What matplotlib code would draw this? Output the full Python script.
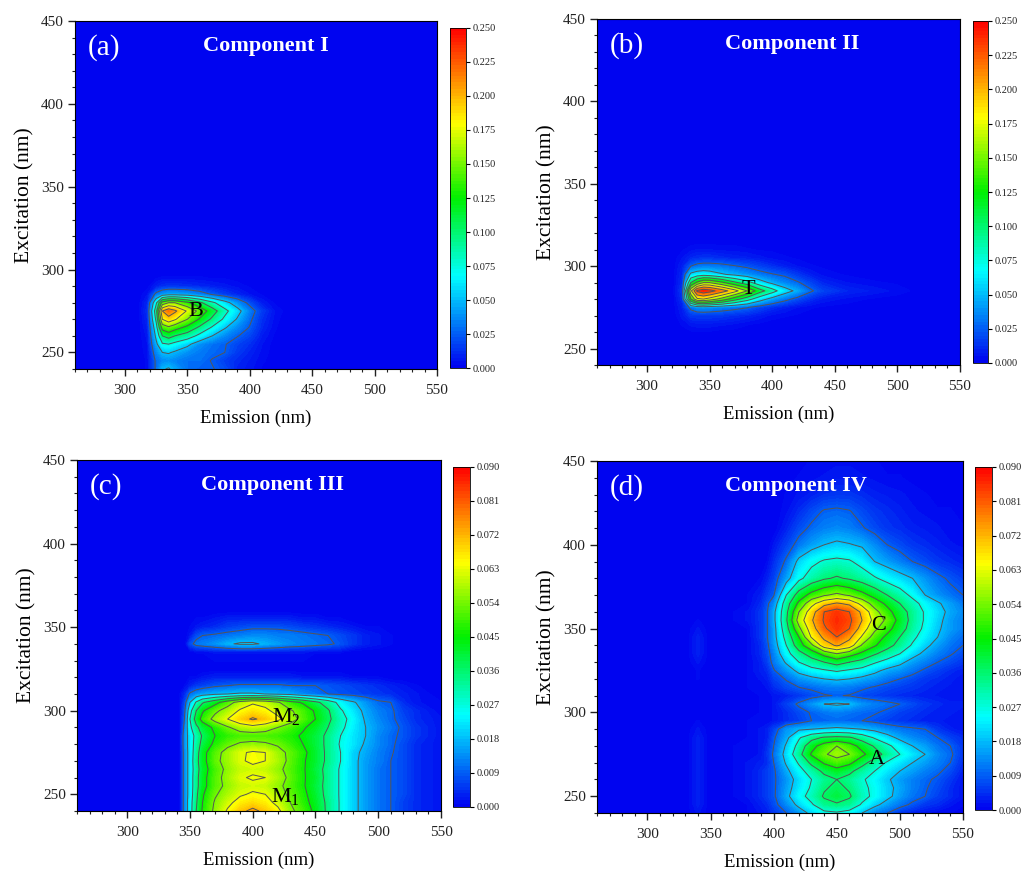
import numpy as np
import matplotlib
matplotlib.use("Agg")
import matplotlib.pyplot as plt
from matplotlib.colors import LinearSegmentedColormap
from matplotlib.ticker import MultipleLocator

plt.rcParams['font.family'] = ['Liberation Serif', 'DejaVu Serif']

# all intensities below are in units of 0.001
em_a = [260, 310, 318, 325, 330, 335, 340, 350, 360, 370, 380, 390, 400, 410, 420, 430, 550]
ex_a = [240, 245, 250, 255, 260, 265, 270, 275, 280, 285, 290, 295, 300, 450]
z_a = [
    [0, 0, 3, 28, 48, 52, 44, 30, 26, 26, 20, 9, 6, 2, 0, 0, 0],
    [0, 0, 3, 28, 36, 38, 35, 30, 30, 24, 16, 11, 7, 3, 1, 0, 0],
    [0, 0, 4, 35, 50, 52, 47, 38, 32, 28, 25, 15, 9, 4, 1, 0, 0],
    [0, 0, 5, 45, 72, 75, 68, 55, 38, 30, 26, 18, 12, 5, 1, 0, 0],
    [0, 0, 6, 55, 100, 110, 100, 88, 68, 50, 36, 26, 18, 7, 2, 0, 0],
    [0, 0, 8, 65, 135, 145, 135, 118, 95, 72, 52, 36, 24, 10, 3, 0, 0],
    [0, 0, 10, 80, 175, 190, 178, 150, 122, 95, 70, 48, 28, 12, 4, 0, 0],
    [0, 0, 12, 90, 200, 218, 205, 172, 142, 112, 82, 58, 33, 15, 5, 1, 0],
    [0, 0, 10, 70, 135, 150, 150, 130, 105, 80, 58, 38, 20, 7, 2, 0, 0],
    [0, 0, 5, 30, 40, 45, 45, 42, 34, 24, 16, 10, 5, 2, 1, 0, 0],
    [0, 0, 1, 8, 12, 13, 13, 12, 10, 8, 6, 4, 2, 1, 0, 0, 0],
    [0, 0, 0, 2, 3, 3, 3, 3, 3, 2, 2, 1, 1, 0, 0, 0, 0],
    [0, 0, 0, 0, 0, 0, 0, 0, 0, 0, 0, 0, 0, 0, 0, 0, 0],
    [0, 0, 0, 0, 0, 0, 0, 0, 0, 0, 0, 0, 0, 0, 0, 0, 0],
]

em_b = [260, 320, 328, 335, 340, 345, 350, 360, 370, 380, 390, 400, 410, 420, 430, 440, 460, 480, 500, 520, 550]
ex_b = [240, 260, 265, 270, 275, 280, 285, 290, 295, 300, 305, 310, 315, 320, 450]
z_b = [
    [0, 0, 0, 0, 0, 0, 0, 0, 0, 0, 0, 0, 0, 0, 0, 0, 0, 0, 0, 0, 0],
    [0, 0, 1, 2, 2, 2, 2, 1, 1, 0, 0, 0, 0, 0, 0, 0, 0, 0, 0, 0, 0],
    [0, 0, 3, 6, 7, 7, 7, 6, 5, 3, 2, 1, 0, 0, 0, 0, 0, 0, 0, 0, 0],
    [0, 0, 6, 14, 15, 15, 15, 14, 12, 10, 7, 4, 3, 2, 1, 0, 0, 0, 0, 0, 0],
    [0, 0, 8, 30, 38, 40, 38, 34, 30, 26, 18, 12, 8, 5, 3, 2, 1, 0, 0, 0, 0],
    [0, 0, 12, 125, 170, 175, 165, 140, 110, 85, 60, 42, 30, 20, 12, 7, 4, 2, 1, 0, 0],
    [0, 0, 15, 170, 230, 242, 235, 212, 185, 150, 110, 85, 60, 45, 28, 18, 10, 7, 4, 1, 0],
    [0, 0, 12, 100, 130, 150, 150, 130, 105, 85, 60, 45, 35, 27, 18, 10, 5, 3, 2, 0, 0],
    [0, 0, 10, 55, 62, 65, 62, 52, 45, 38, 31, 26, 22, 14, 8, 4, 2, 1, 0, 0, 0],
    [0, 0, 8, 25, 30, 32, 32, 30, 26, 22, 17, 12, 8, 5, 3, 2, 1, 0, 0, 0, 0],
    [0, 0, 5, 10, 12, 13, 13, 11, 9, 8, 6, 4, 3, 2, 1, 1, 0, 0, 0, 0, 0],
    [0, 0, 2, 4, 5, 5, 5, 4, 4, 3, 2, 2, 1, 1, 0, 0, 0, 0, 0, 0, 0],
    [0, 0, 1, 1, 1, 1, 1, 1, 1, 0, 0, 0, 0, 0, 0, 0, 0, 0, 0, 0, 0],
    [0, 0, 0, 0, 0, 0, 0, 0, 0, 0, 0, 0, 0, 0, 0, 0, 0, 0, 0, 0, 0],
    [0, 0, 0, 0, 0, 0, 0, 0, 0, 0, 0, 0, 0, 0, 0, 0, 0, 0, 0, 0, 0],
]

em_c = [260, 335, 342, 346, 350, 355, 360, 370, 380, 390, 400, 410, 420, 430, 440, 450, 460, 470, 480, 490, 500, 510, 520, 530, 550]
ex_c = [240, 245, 250, 255, 260, 265, 270, 275, 280, 285, 290, 295, 300, 305, 310, 315, 320, 325, 330, 335, 340, 345, 350, 355, 360, 450]
z_c = [
    [0, 0, 1, 13, 23, 36, 46, 56, 64, 70, 74, 70, 65, 56, 50, 43, 34, 26, 20, 15, 11, 9, 6, 4, 2],
    [0, 0, 1, 13, 23, 35, 45, 55, 61, 66, 68, 66, 61, 54, 48, 42, 34, 26, 20, 15, 11, 9, 6, 4, 2],
    [0, 0, 1, 13, 22, 34, 44, 53, 58, 62, 64, 63, 58, 52, 47, 41, 33, 26, 20, 15, 11, 9, 7, 4, 2],
    [0, 0, 1, 13, 22, 33, 42, 51, 56, 60, 61, 60, 56, 51, 46, 40, 33, 26, 20, 15, 11, 9, 7, 4, 2],
    [0, 0, 1, 13, 22, 33, 42, 51, 57, 62, 64, 63, 58, 52, 46, 41, 33, 26, 20, 15, 11, 9, 7, 4, 2],
    [0, 0, 1, 13, 22, 32, 41, 50, 56, 60, 61, 60, 56, 51, 46, 40, 33, 26, 20, 15, 11, 9, 7, 4, 2],
    [0, 0, 1, 13, 22, 33, 42, 52, 57, 62, 64.5, 63, 58, 52, 46, 41, 34, 27, 20, 15, 12, 9, 7, 4, 2],
    [0, 0, 1, 13, 22, 32, 42, 51, 57, 62, 64, 63, 57, 52, 47, 41, 34, 27, 20, 16, 12, 9.5, 7, 4, 2],
    [0, 0, 1, 14, 22, 31, 39, 47, 52, 55, 56, 55, 53, 49, 45, 40, 34, 26, 22, 17, 13, 10, 7, 4, 2],
    [0, 0, 1, 14, 22, 30, 37, 45, 48, 50, 50, 50, 49, 47, 44, 40, 34, 27, 22, 18, 13, 10, 8, 5, 2],
    [0, 0, 1, 12, 25, 34, 40, 47, 53, 58, 60, 58, 54, 50, 46, 42, 36, 29, 23, 18, 14, 11, 8, 5, 2],
    [0, 0, 1, 10, 27, 40, 48, 57, 63, 69, 73, 70, 65, 58, 51, 45, 38, 30, 24, 17, 13, 10, 7, 4, 2],
    [0, 0, 1, 9, 24, 36, 44, 52, 58, 64, 67, 65, 60, 55, 50, 44, 37, 28, 22, 16, 12, 10, 6, 4, 1],
    [0, 0, 1, 7, 18, 28, 35, 42, 50, 58, 62, 60, 55, 48, 44, 38, 32, 24, 19, 14, 10, 9, 4, 2, 1],
    [0, 0, 1, 4, 10, 13, 15, 17, 18, 19, 19, 18, 17, 16, 13, 11, 9, 8, 7, 6, 5, 4, 3, 2, 0],
    [0, 0, 0, 1, 3, 5, 6, 8, 9, 10, 10, 10, 10, 9, 9, 9, 8, 7, 6, 5, 4, 3, 2, 1, 0],
    [0, 0, 0, 0, 1, 1, 2, 3, 3, 3, 3, 3, 3, 3, 2, 2, 2, 2, 1, 1, 1, 0, 0, 0, 0],
    [0, 0, 0, 0, 0, 0, 0, 0, 0, 0, 0, 0, 0, 0, 0, 0, 0, 0, 0, 0, 0, 0, 0, 0, 0],
    [0, 0, 0, 0, 0, 0, 0, 1, 1, 1, 1, 1, 1, 1, 1, 0, 0, 0, 0, 0, 0, 0, 0, 0, 0],
    [0, 0, 0, 0, 0, 1, 1, 2, 2, 2, 2, 2, 2, 2, 2, 1, 1, 1, 0, 0, 0, 0, 0, 0, 0],
    [0, 0, 0, 0, 7, 11, 12, 14, 17, 19, 19, 17, 15, 13, 12, 11, 10, 8, 5, 3, 2, 1, 0, 0, 0],
    [0, 0, 0, 0, 2, 7, 9, 10, 11, 12, 13, 13, 12, 12, 11, 10, 9, 7, 5, 3, 2, 1, 0, 0, 0],
    [0, 0, 0, 0, 1, 2, 3, 4, 6, 7, 8, 8, 8, 7, 6, 5, 4, 3, 2, 1, 1, 0, 0, 0, 0],
    [0, 0, 0, 0, 0, 1, 1, 2, 3, 3, 3, 3, 3, 3, 2, 2, 1, 1, 0, 0, 0, 0, 0, 0, 0],
    [0, 0, 0, 0, 0, 0, 0, 0, 0, 0, 0, 0, 0, 0, 0, 0, 0, 0, 0, 0, 0, 0, 0, 0, 0],
    [0, 0, 0, 0, 0, 0, 0, 0, 0, 0, 0, 0, 0, 0, 0, 0, 0, 0, 0, 0, 0, 0, 0, 0, 0],
]

em_d = [260, 330, 340, 350, 370, 380, 390, 395, 400, 410, 420, 430, 440, 450, 460, 470, 480, 490, 500, 510, 520, 530, 540, 550]
ex_d = [240, 245, 250, 255, 260, 265, 270, 275, 280, 285, 290, 295, 300, 305, 310, 315, 320, 325, 330, 335, 340, 345,
        350, 355, 360, 365, 370, 380, 390, 400, 410, 420, 430, 440, 450]
z_d = [
    [0, 0, 2, 0, 0, 1, 2, 3, 5, 9, 14, 20, 25, 26, 24, 18, 12, 9, 5, 3, 2, 1, 1, 0],
    [0, 0, 3, 0, 0, 1, 3, 4, 7, 13, 20, 26, 33, 35, 33, 26, 20, 15, 11, 8, 5, 4, 2, 1],
    [0, 0, 3, 0, 1, 2, 4, 6, 8, 16, 24, 30, 37, 40, 37, 30, 25, 20, 15, 11, 9, 6, 4, 2],
    [0, 0, 3, 0, 1, 2, 4, 6, 8, 15, 22, 28, 35, 38, 35, 29, 25, 20, 16, 12, 9.5, 7, 4, 2],
    [0, 0, 3, 0, 1, 2, 4, 6, 8, 14, 21, 27, 33, 36, 33, 28, 24, 19, 15, 12, 10, 8, 5, 2],
    [0, 0, 3, 0, 1, 2, 4, 6, 8, 16, 24, 31, 38, 42, 38, 32, 27, 22, 18, 15, 12, 10, 7, 3],
    [0, 0, 3, 0, 1, 2, 3, 4, 9, 19, 28, 38, 46, 50, 47, 39, 32, 26, 22, 18, 15, 12, 9, 4],
    [0, 0, 3, 0, 1, 1, 2, 5, 10, 21, 33, 46, 53, 57, 54, 47, 40, 33, 27, 22, 18, 13, 10, 5],
    [0, 0, 3, 0, 1, 1, 2, 4, 9, 19, 30, 42, 49, 54, 49, 42, 35, 29, 23, 18, 15, 11, 9, 5],
    [0, 0, 3, 0, 0, 1, 2, 3, 8, 16, 26, 33, 37, 38, 37, 32, 26, 21, 16, 13, 11, 9, 6, 4],
    [0, 0, 2, 0, 0, 1, 2, 3, 6, 14, 17, 18, 19, 20, 19, 18, 16, 13, 11, 10, 9, 5, 3, 2],
    [0, 0, 1, 0, 0, 1, 1, 1, 2, 4, 6, 9, 9.5, 10, 9.5, 9, 7.5, 6, 5, 4, 3, 3, 2, 2],
    [0, 0, 0, 0, 0, 0, 1, 1, 2, 4, 7, 9.5, 11, 12, 11, 10, 9.5, 8, 6, 5, 4, 3, 3, 2],
    [0, 0, 0, 0, 0, 0, 1, 1, 2, 6, 10, 14, 18, 19, 18, 14, 12, 10.5, 9, 7, 5, 4, 3, 3],
    [0, 0, 0, 0, 0, 0, 1, 1, 2, 3, 5, 7, 8.5, 9.3, 8.7, 7, 6, 5, 4, 3.5, 3, 2.5, 2, 2],
    [0, 0, 0, 0, 0, 1, 1, 2, 4, 7, 9, 10, 11.5, 12, 11.5, 10, 8.5, 7, 6, 5, 4, 3, 2.5, 2],
    [0, 0, 1, 0, 0, 1, 2, 3, 6, 9.5, 14, 16, 18, 19, 18, 16, 14, 11, 9, 7, 5, 4, 3, 2],
    [0, 0, 1, 0, 0, 1, 3, 4, 8.5, 14, 20, 24, 26, 28, 26, 24, 20, 16, 14, 11, 8, 6, 4, 3],
    [0, 0, 2, 0, 0, 1, 3, 6, 11, 19, 27, 32, 36, 40, 36, 33, 28, 24, 20, 15, 12, 9, 7, 5],
    [0, 0, 3, 0, 0, 1, 4, 7, 12, 24, 33, 40, 48, 54, 49, 43, 37, 32, 27, 21, 16, 12, 9.5, 7],
    [0, 0, 3, 0, 0, 1, 4, 8, 14, 27, 41, 52, 68, 73, 68, 53, 46, 39, 33, 26, 20, 15, 11, 9],
    [0, 0, 3, 0, 0, 1, 5, 9, 15, 30, 45, 64, 74, 81, 74, 62, 50, 43, 36, 29, 23, 18, 13, 10],
    [0, 0, 2, 0, 0, 1, 5, 9, 15, 33, 52, 68, 80, 85, 81, 68, 56, 48, 40, 32, 25, 19, 15, 12],
    [0, 0, 1, 0, 1, 2, 5, 9, 16, 35, 58, 71, 82, 86, 83, 72, 60, 52, 42, 33, 26, 20, 15, 12],
    [0, 0, 0, 0, 1, 2, 5, 9, 16, 34, 54, 68, 81, 85, 81, 70, 57, 48, 40, 33, 26, 21, 16, 13],
    [0, 0, 0, 0, 0, 1, 4, 8, 13, 32, 47, 60, 69, 73, 70, 60, 50, 43, 36, 30, 24, 19, 15, 11],
    [0, 0, 0, 0, 0, 1, 3, 6, 8.5, 27, 40, 48, 53, 56, 53, 48, 42, 36, 31, 25, 18, 14, 11, 9],
    [0, 0, 0, 0, 0, 0, 1, 3, 6, 15, 25, 31, 35, 37, 35, 32, 28, 24, 21, 18, 14, 10.5, 8, 6],
    [0, 0, 0, 0, 0, 0, 0, 1, 4, 10, 20, 25, 28, 29, 28, 24, 18, 15, 12, 9, 7, 5, 4, 3],
    [0, 0, 0, 0, 0, 0, 0, 0, 2, 6, 11, 15, 18, 19.5, 18.5, 17, 13, 9, 7, 5, 4, 3, 2, 1.5],
    [0, 0, 0, 0, 0, 0, 0, 0, 0, 3, 7, 10, 12, 13, 12, 9.5, 7, 5, 4, 3, 2.5, 2, 1, 1],
    [0, 0, 0, 0, 0, 0, 0, 0, 0, 1.5, 4, 7, 9.5, 10, 9.3, 7, 5, 4, 3, 2, 1.5, 1, 1, 0.5],
    [0, 0, 0, 0, 0, 0, 0, 0, 0, 1, 2, 3, 4.5, 5, 5, 4, 3, 2.5, 2, 1.5, 1, 0.5, 0.5, 0],
    [0, 0, 0, 0, 0, 0, 0, 0, 0, 0.5, 1, 1.5, 2, 2.5, 2.5, 2, 1.5, 1, 1, 0.5, 0, 0, 0, 0],
    [0, 0, 0, 0, 0, 0, 0, 0, 0, 0, 0.5, 1, 1, 1.5, 1.5, 1, 1, 0.5, 0.5, 0, 0, 0, 0, 0],
]

# text for each panel
panel_labels = ["(a)", "(b)", "(c)", "(d)"]
titles = ["Component I", "Component II", "Component III", "Component IV"]
peak_a = [("B", 357, 275)]
peak_b = [("T", 381, 286)]
peak_c = [("M$_{\\mathregular{2}}$", 427, 296), ("M$_{\\mathregular{1}}$", 426, 248)]
peak_d = [("C", 483, 352), ("A", 482, 272)]

W, H = 1025, 874
cmap = LinearSegmentedColormap.from_list("eem", [(0, "#0000f0"), (0.27, "#00ffff"), (0.5, "#00f000"),
                                                 (0.72, "#ffff00"), (1, "#ff0000")])

def box(x0, y0, x1, y1):
    # pixel box -> figure fraction
    return [x0 / W, 1 - y1 / H, (x1 - x0) / W, (y1 - y0) / H]

def panel(em, ex, z, vmax, pos, cpos, label, title, title_x, peaks):
    ax = fig.add_axes(box(*pos))
    z = np.array(z) * 1e-3
    step = vmax / 10
    cf = ax.contourf(em, ex, z, levels=np.linspace(0, vmax, 101), cmap=cmap, vmin=0, vmax=vmax)
    ax.contour(em, ex, z, levels=np.arange(1, 10) * step, colors="#555555", linewidths=0.7)
    ax.set_xlim(260, 550)
    ax.set_ylim(240, 450)
    ax.xaxis.set_major_locator(MultipleLocator(50))
    ax.xaxis.set_minor_locator(MultipleLocator(10))
    ax.yaxis.set_major_locator(MultipleLocator(50))
    ax.yaxis.set_minor_locator(MultipleLocator(10))
    ax.tick_params(which="major", length=5, width=1, labelsize=11, pad=3, color="#222222", labelcolor="#222222")
    ax.tick_params(axis="x", which="major", pad=6)
    ax.tick_params(which="minor", length=2.5, width=0.8, color="#222222")
    ax.set_xlabel("Emission (nm)", fontsize=13.5, labelpad=9)
    ax.set_ylabel("Excitation (nm)", fontsize=15.5, labelpad=5)
    ax.text(270, 434, label, color="white", fontsize=21, va="center")
    ax.text(title_x, 435, title, color="white", fontsize=16, fontweight="bold", ha="center", va="center")
    for name, x, y in peaks:
        ax.text(x, y, name, color="black", fontsize=16, ha="center", va="center")

    cax = fig.add_axes(box(*cpos))
    cb = fig.colorbar(cf, cax=cax, ticks=np.arange(0, 11) * step)
    cb.ax.set_yticklabels(["%.3f" % (k * step) for k in range(11)])
    cb.ax.tick_params(length=3, width=0.8, labelsize=7.5, pad=2, labelcolor="#222222")
    cb.outline.set_linewidth(0.6)

fig = plt.figure(figsize=(W / 100, H / 100), dpi=100)
panel(em_a, ex_a, z_a, 0.25, (75, 21, 437, 369), (450, 28, 466, 368), panel_labels[0], titles[0], 413, peak_a)
panel(em_b, ex_b, z_b, 0.25, (597, 19, 960, 365), (973, 21, 988, 363), panel_labels[1], titles[1], 416, peak_b)
panel(em_c, ex_c, z_c, 0.09, (77, 460, 441, 811), (453, 467, 470, 807), panel_labels[2], titles[2], 416, peak_c)
panel(em_d, ex_d, z_d, 0.09, (597, 461, 963, 813), (975, 467, 992, 810), panel_labels[3], titles[3], 418, peak_d)

fig.savefig("out.png", dpi=100)
